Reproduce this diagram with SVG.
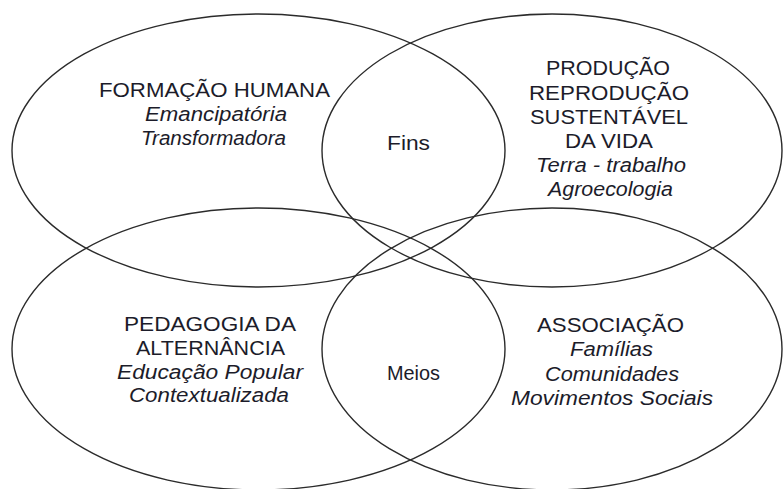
<svg xmlns="http://www.w3.org/2000/svg" width="783" height="489" viewBox="0 0 783 489">
<style>
.e{fill:none;stroke:#2b2b2b;stroke-width:1.4}
.t{font-family:"Liberation Sans",Arial,sans-serif;font-size:20px;fill:#1c1c2a}
.i{font-style:italic}
</style>
<rect width="783" height="489" fill="#fff"/>
<g id="shapes">
<ellipse id="e-formacao" class="e" cx="258.5" cy="150.5" rx="246.5" ry="136.5"/>
<ellipse id="e-producao" class="e" cx="552" cy="150.5" rx="230" ry="136.5"/>
<ellipse id="e-pedagogia" class="e" cx="258.5" cy="349" rx="246.5" ry="141"/>
<ellipse id="e-associacao" class="e" cx="552" cy="349" rx="230" ry="141"/>
</g>
<g id="formacao">
<text class="t" x="99" y="97" textLength="231" lengthAdjust="spacingAndGlyphs">FORMAÇÃO  HUMANA</text>
<text class="t i" x="145" y="121" textLength="142" lengthAdjust="spacingAndGlyphs">Emancipatória</text>
<text class="t i" x="141" y="145" textLength="145" lengthAdjust="spacingAndGlyphs">Transformadora</text>
</g>
<g id="producao">
<text class="t" x="546" y="75" textLength="124" lengthAdjust="spacingAndGlyphs">PRODUÇÃO</text>
<text class="t" x="529" y="100" textLength="160" lengthAdjust="spacingAndGlyphs">REPRODUÇÃO</text>
<text class="t" x="530" y="124" textLength="158" lengthAdjust="spacingAndGlyphs">SUSTENTÁVEL</text>
<text class="t" x="565" y="148" textLength="88" lengthAdjust="spacingAndGlyphs">DA VIDA</text>
<text class="t i" x="536" y="172" textLength="150" lengthAdjust="spacingAndGlyphs">Terra - trabalho</text>
<text class="t i" x="548" y="196" textLength="125" lengthAdjust="spacingAndGlyphs">Agroecologia</text>
</g>
<g id="fins">
<text class="t" x="387" y="150" textLength="43" lengthAdjust="spacingAndGlyphs">Fins</text>
</g>
<g id="pedagogia">
<text class="t" x="124" y="331" textLength="172" lengthAdjust="spacingAndGlyphs">PEDAGOGIA DA</text>
<text class="t" x="136" y="355" textLength="149" lengthAdjust="spacingAndGlyphs">ALTERNÂNCIA</text>
<text class="t i" x="117" y="379" textLength="186" lengthAdjust="spacingAndGlyphs">Educação Popular</text>
<text class="t i" x="129" y="402" textLength="160" lengthAdjust="spacingAndGlyphs">Contextualizada</text>
</g>
<g id="meios">
<text class="t" x="387" y="380" textLength="53" lengthAdjust="spacingAndGlyphs">Meios</text>
</g>
<g id="associacao">
<text class="t" x="537" y="332" textLength="147" lengthAdjust="spacingAndGlyphs">ASSOCIAÇÃO</text>
<text class="t i" x="570" y="356" textLength="83" lengthAdjust="spacingAndGlyphs">Famílias</text>
<text class="t i" x="545" y="381" textLength="134" lengthAdjust="spacingAndGlyphs">Comunidades</text>
<text class="t i" x="511" y="405" textLength="202" lengthAdjust="spacingAndGlyphs">Movimentos  Sociais</text>
</g>
<g id="connectors"></g>
</svg>
